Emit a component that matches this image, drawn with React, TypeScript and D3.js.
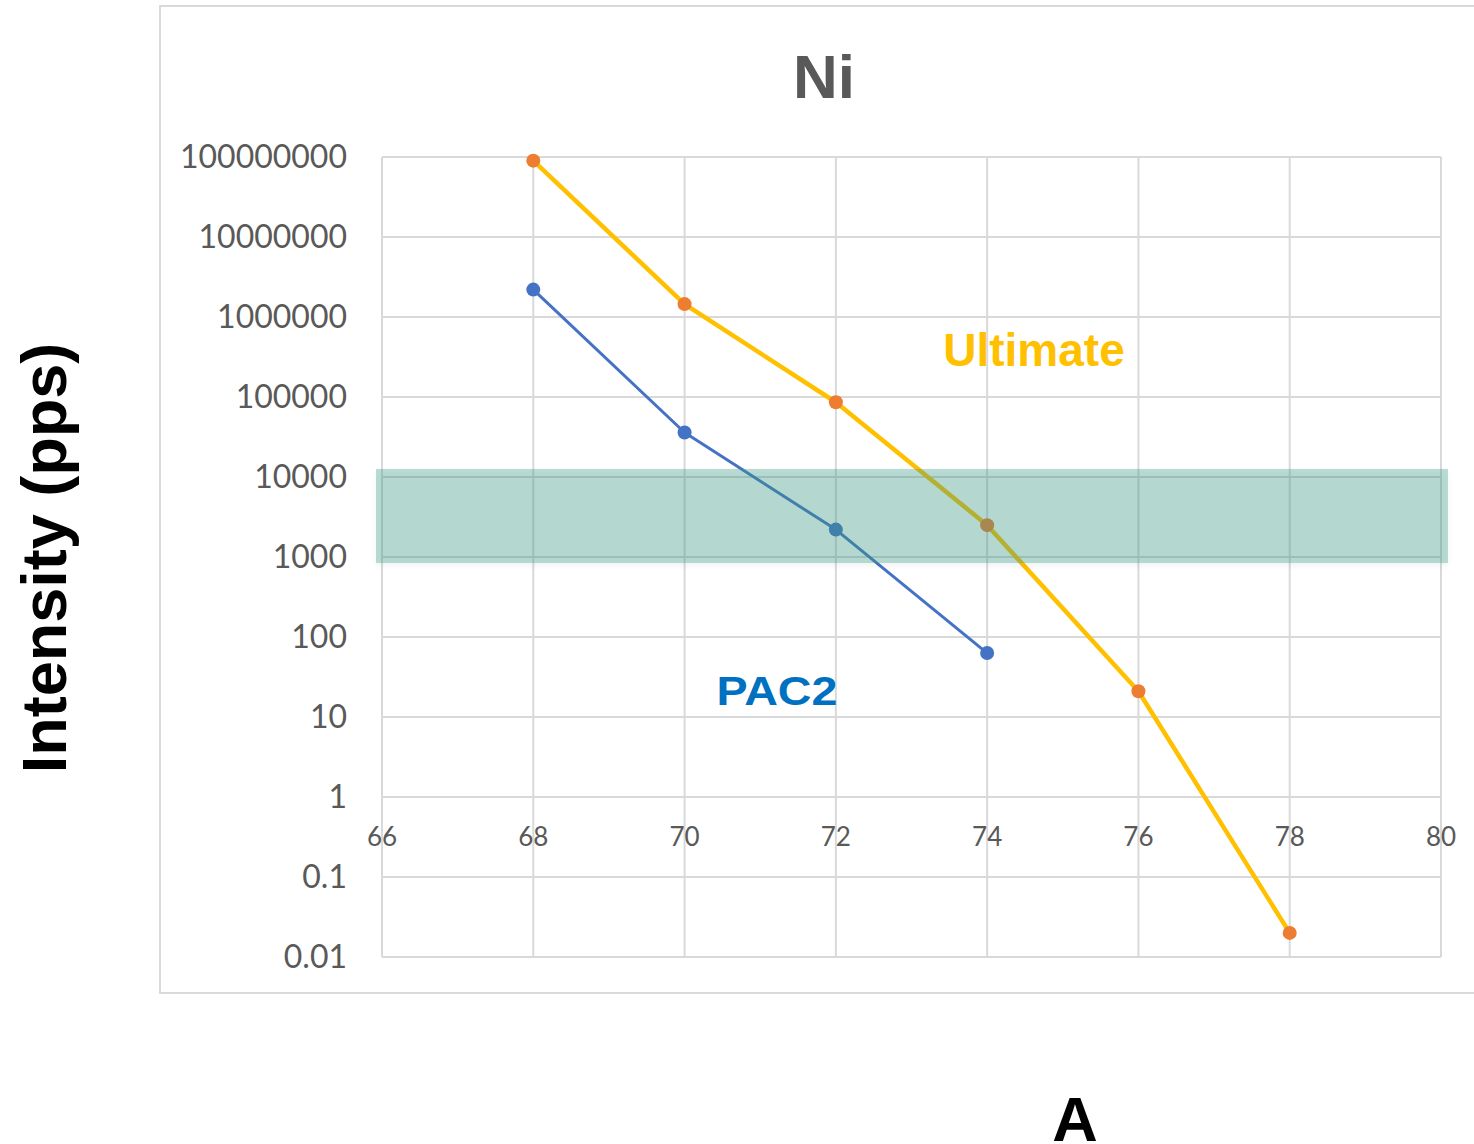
import React from "react";
import * as d3 from "d3";

// Ni isotope intensities (pps) versus mass number A
const ultimateMass = [68, 70, 72, 74, 76, 78];
const ultimateIntensity = [9e7, 1.45e6, 8.6e4, 2.5e3, 21, 0.02];
const pac2Mass = [68, 70, 72, 74];
const pac2Intensity = [2.2e6, 3.6e4, 2.2e3, 63];

const xTicks = [66, 68, 70, 72, 74, 76, 78, 80];
const yTicks = [1e8, 1e7, 1e6, 1e5, 1e4, 1e3, 100, 10, 1, 0.1, 0.01];
const yTickLabels = [
  "100000000", "10000000", "1000000", "100000", "10000", "1000",
  "100", "10", "1", "0.1", "0.01",
];
// highlighted intensity window
const bandLow = 840;
const bandHigh = 12600;

const W = 1474;
const H = 1144;

export default function App() {
  const x = d3.scaleLinear().domain([66, 80]).range([382, 1441]);
  const y = d3.scaleLog().domain([0.01, 1e8]).range([957, 157]);

  const line = d3
    .line<[number, number]>()
    .x((d) => x(d[0]))
    .y((d) => y(d[1]));

  const ult: [number, number][] = ultimateMass.map((m, i) => [m, ultimateIntensity[i]]);
  const pac: [number, number][] = pac2Mass.map((m, i) => [m, pac2Intensity[i]]);

  const grid = "#d9d9d9";
  const tickColor = "#595959";
  const tickFont = "Lato, 'Open Sans', sans-serif";
  const boldFont = "'Liberation Sans', Arial, sans-serif";

  return (
    <svg
      width={W}
      height={H}
      style={{ position: "absolute", left: 0, top: 0, background: "#fff" }}
    >
      <defs>
        <filter id="bandShadow" x="-5%" y="-20%" width="110%" height="150%">
          <feGaussianBlur in="SourceAlpha" stdDeviation="3" />
          <feOffset dx="0" dy="3" result="b" />
          <feComponentTransfer>
            <feFuncA type="linear" slope="0.15" />
          </feComponentTransfer>
          <feMerge>
            <feMergeNode />
            <feMergeNode in="SourceGraphic" />
          </feMerge>
        </filter>
      </defs>

      {/* chart frame */}
      <rect x={160} y={6} width={1400} height={987} fill="none" stroke={grid} strokeWidth={2} />

      {/* gridlines */}
      {yTicks.map((t) => (
        <line key={"h" + t} x1={x(66)} x2={x(80)} y1={y(t)} y2={y(t)} stroke={grid} strokeWidth={2} />
      ))}
      {xTicks.map((t) => (
        <line key={"v" + t} x1={x(t)} x2={x(t)} y1={y(1e8)} y2={y(0.01)} stroke={grid} strokeWidth={2} />
      ))}

      {/* title */}
      <text x={824} y={98} textAnchor="middle" fontFamily={boldFont} fontWeight="bold" fontSize={62} fill={tickColor}>
        Ni
      </text>

      {/* y tick labels */}
      {yTicks.map((t, i) => (
        <text key={"yl" + t} x={347} y={y(t) + 11} textAnchor="end" fontFamily={tickFont} fontSize={32} fill={tickColor}>
          {yTickLabels[i]}
        </text>
      ))}

      {/* x tick labels, drawn along the value-1 axis */}
      {xTicks.map((t) => (
        <text key={"xl" + t} x={x(t)} y={y(1) + 49} textAnchor="middle" fontFamily={tickFont} fontSize={26} fill={tickColor}>
          {t}
        </text>
      ))}

      {/* series */}
      <path d={line(ult) || ""} fill="none" stroke="#FFC000" strokeWidth={4.5} strokeLinejoin="round" />
      <path d={line(pac) || ""} fill="none" stroke="#4472C4" strokeWidth={3} strokeLinejoin="round" />
      {ult.map((d, i) => (
        <circle key={"u" + i} cx={x(d[0])} cy={y(d[1])} r={7} fill="#ED7D31" />
      ))}
      {pac.map((d, i) => (
        <circle key={"p" + i} cx={x(d[0])} cy={y(d[1])} r={7} fill="#4472C4" />
      ))}

      {/* highlighted band */}
      <rect
        x={376}
        y={y(bandHigh)}
        width={1448 - 376}
        height={y(bandLow) - y(bandHigh)}
        fill="#3f9e8a"
        fillOpacity={0.35}
        filter="url(#bandShadow)"
      />

      {/* series labels */}
      <text x={1034} y={366} textAnchor="middle" fontFamily={boldFont} fontWeight="bold" fontSize={46} fill="#FFC000">
        Ultimate
      </text>
      <text x={777} y={705} textAnchor="middle" fontFamily={boldFont} fontWeight="bold" fontSize={40} fill="#0070C0" textLength={121} lengthAdjust="spacingAndGlyphs">
        PAC2
      </text>

      {/* axis titles */}
      <text
        transform={`translate(66, 558) rotate(-90)`}
        textAnchor="middle"
        fontFamily={boldFont}
        fontWeight="bold"
        fontSize={63}
        fill="#000"
      >
        Intensity (pps)
      </text>
      <text x={1075} y={1141} textAnchor="middle" fontFamily={boldFont} fontWeight="bold" fontSize={63} fill="#000">
        A
      </text>
    </svg>
  );
}
